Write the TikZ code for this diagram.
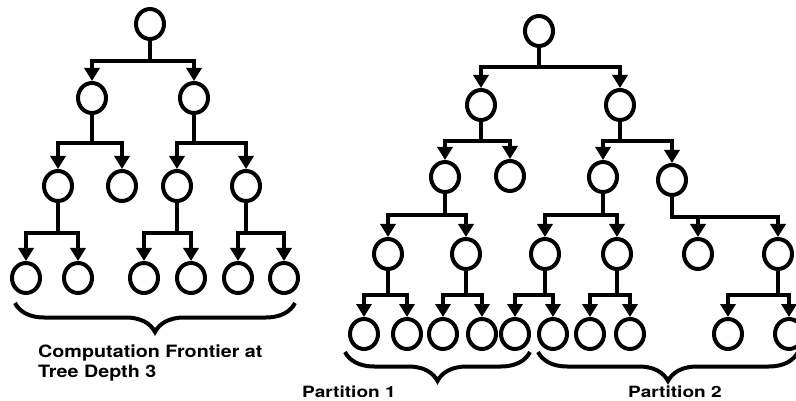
\documentclass[tikz,border=0pt]{standalone}
\usepackage{fontspec}
\setmainfont{TeX Gyre Heros}
\usetikzlibrary{positioning, arrows.meta, shapes.geometric, decorations.pathreplacing}

\newcommand{\wide}[2][1.16]{\scalebox{#1}[1]{#2}}

\begin{document}
\begin{tikzpicture}
  [x=1pt, y=-1pt,
   vertex/.style={ellipse, draw, line width=4pt, minimum width=28pt, minimum height=30pt, inner sep=0pt},
   link/.style={-{Triangle[length=13pt,width=15pt]}, line width=3.8pt},
   bracket/.style={decorate, decoration={brace, mirror, amplitude=29pt}, line width=4pt},
   caption/.style={font=\fontsize{17}{20}\selectfont\bfseries, inner sep=0pt, align=left}]
  \useasboundingbox (0,0) rectangle (796,401);

  % left tree %
  \node[vertex] (L0) at (150,24) {};
  \node[vertex] (L1a) at (92,98) {};
  \node[vertex] (L1b) at (194,98) {};
  \node[vertex] (L2a) at (58,186) {};
  \node[vertex] (L2b) at (122,186) {};
  \node[vertex] (L2c) at (177,186) {};
  \node[vertex] (L2d) at (246,186) {};
  \node[vertex] (L3a) at (26,278) {};
  \node[vertex] (L3b) at (78,278) {};
  \node[vertex] (L3c) at (144,278) {};
  \node[vertex] (L3d) at (191,278) {};
  \node[vertex] (L3e) at (238,278) {};
  \node[vertex] (L3f) at (284,278) {};

  % right tree %
  \node[vertex] (R0) at (539,31) {};
  \node[vertex] (R1a) at (481,105) {};
  \node[vertex] (R1b) at (620,105) {};
  \node[vertex] (R2a) at (445,177) {};
  \node[vertex] (R2b) at (510,176) {};
  \node[vertex] (R2c) at (603,177) {};
  \node[vertex] (R2d) at (672,180) {};
  \node[vertex] (R3a) at (388,254) {};
  \node[vertex] (R3b) at (466,254) {};
  \node[vertex] (R3c) at (545,254) {};
  \node[vertex] (R3d) at (617,254) {};
  \node[vertex] (R3e) at (698,254) {};
  \node[vertex] (R3f) at (778,254) {};
  \node[vertex] (R4a) at (364,334) {};
  \node[vertex] (R4b) at (407,334) {};
  \node[vertex] (R4c) at (443,334) {};
  \node[vertex] (R4d) at (482,334) {};
  \node[vertex] (R4e) at (515,334) {};
  \node[vertex] (R4f) at (553,334) {};
  \node[vertex] (R4g) at (590,334) {};
  \node[vertex] (R4h) at (630,334) {};
  \node[vertex] (R4i) at (728,334) {};
  \node[vertex] (R4j) at (789,334) {};

  % edges, left %
  \draw[link] (L0.south) -- ++(0,20) -| (L1a.north);
  \draw[link] (L0.south) -- ++(0,20) -| (L1b.north);
  \draw[link] (L1a.south) -- ++(0,28) -| (L2a.north);
  \draw[link] (L1a.south) -- ++(0,28) -| (L2b.north);
  \draw[link] (L1b.south) -- ++(0,28) -| (L2c.north);
  \draw[link] (L1b.south) -- ++(0,28) -| (L2d.north);
  \draw[link] (L2a.south) -- ++(0,30) -| (L3a.north);
  \draw[link] (L2a.south) -- ++(0,30) -| (L3b.north);
  \draw[link] (L2c.south) -- ++(0,30) -| (L3c.north);
  \draw[link] (L2c.south) -- ++(0,30) -| (L3d.north);
  \draw[link] (L2d.south) -- ++(0,30) -| (L3e.north);
  \draw[link] (L2d.south) -- ++(0,30) -| (L3f.north);

  % edges, right %
  \draw[link] (R0.south) -- ++(0,19) -| (R1a.north);
  \draw[link] (R0.south) -- ++(0,19) -| (R1b.north);
  \draw[link] (R1a.south) -- ++(0,19) -| (R2a.north);
  \draw[link] (R1a.south) -- ++(0,19) -| (R2b.north);
  \draw[link] (R1b.south) -- ++(0,19) -| (R2c.north);
  \draw[link] (R1b.south) -- ++(0,19) -| (R2d.north);
  \draw[link] (R2a.south) -- ++(0,21) -| (R3a.north);
  \draw[link] (R2a.south) -- ++(0,21) -| (R3b.north);
  \draw[link] (R2c.south) -- ++(0,21) -| (R3c.north);
  \draw[link] (R2c.south) -- ++(0,21) -| (R3d.north);
  \draw[link] (R2d.south) -- ++(0,20) -| (R3e.north);
  \draw[link] (R2d.south) -- ++(0,20) -| (R3f.north);
  \draw[link] (R3a.south) -- ++(0,24) -| (R4a.north);
  \draw[link] (R3a.south) -- ++(0,24) -| (R4b.north);
  \draw[link] (R3b.south) -- ++(0,24) -| (R4c.north);
  \draw[link] (R3b.south) -- ++(0,24) -| (R4d.north);
  \draw[link] (R3c.south) -- ++(0,24) -| (R4e.north);
  \draw[link] (R3c.south) -- ++(0,24) -| (R4f.north);
  \draw[link] (R3d.south) -- ++(0,24) -| (R4g.north);
  \draw[link] (R3d.south) -- ++(0,24) -| (R4h.north);
  \draw[link] (R3f.south) -- ++(0,24) -| (R4i.north);
  \draw[link] (R3f.south) -- ++(0,24) -| (R4j.north);

  % braces %
  \coordinate (fl) at (15,303);
  \coordinate (fr) at (295,303);
  \coordinate (p1l) at (345,352);
  \coordinate (p1r) at (530,352);
  \coordinate (p2l) at (538,352);
  \coordinate (p2r) at (798,352);
  \draw[bracket] (fl) -- (fr);
  \draw[bracket] (p1l) -- (p1r);
  \draw[bracket] (p2l) -- (p2r);

  % labels %
  \node[caption, anchor=north west] (front) at (38,345) {\wide{Computation Frontier at}\\\wide{Tree Depth 3}};
  \node[caption, font=\fontsize{15.5}{18}\selectfont\bfseries, anchor=base west] (part1) at (302,397) {\wide[1.23]{Partition 1}};
  \node[caption, font=\fontsize{15.5}{18}\selectfont\bfseries, anchor=base west] (part2) at (628,397) {\wide[1.23]{Partition 2}};
\end{tikzpicture}
\end{document}
